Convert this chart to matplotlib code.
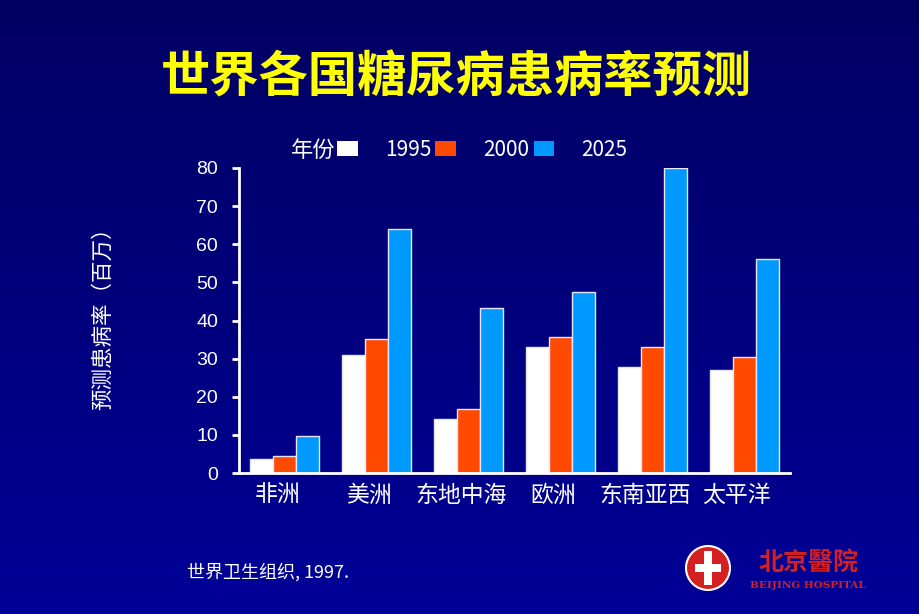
import numpy as np
import matplotlib
matplotlib.use("Agg")
import matplotlib.pyplot as plt
from matplotlib.patches import Patch, Ellipse, Rectangle
from matplotlib.colors import LinearSegmentedColormap

plt.rcParams['font.family'] = ['Noto Sans CJK SC', 'DejaVu Sans']

title = "世界各国糖尿病患病率预测"
regions = ["非洲", "美洲", "东地中海", "欧洲", "东南亚西", "太平洋"]
years = ["1995", "2000", "2025"]
v1995 = [3.8, 30.9, 14.2, 33.0, 27.9, 26.9]
v2000 = [4.5, 35.1, 16.8, 35.7, 33.0, 30.4]
v2025 = [9.7, 63.9, 43.3, 47.5, 80.0, 56.2]
yticks = [0, 10, 20, 30, 40, 50, 60, 70, 80]
ylabel = "预测患病率（百万）"
legend_title = "年份"
source = "世界卫生组织, 1997."

colors = ["#FFFFFF", "#FF4A00", "#0099FF"]

fig = plt.figure(figsize=(9.2, 6.14), dpi=100)

# gradient background
bg = fig.add_axes([0, 0, 1, 1], zorder=-10)
grad = np.linspace(0, 1, 256).reshape(-1, 1)
cmap = LinearSegmentedColormap.from_list("bg", ["#000062", "#000098"])
bg.imshow(grad, aspect="auto", cmap=cmap, extent=[0, 1, 0, 1], origin="upper")
bg.axis("off")

ax = fig.add_axes([239/920, 1-473/614, (790-239)/920, (473-168)/614])
ax.set_facecolor("none")
x = np.arange(len(regions))
w = 0.25
series = [v1995, v2000, v2025]
for i, vals in enumerate(series):
    ax.bar(x + (i-1)*w, vals, width=w, color=colors[i],
           edgecolor="#E6E6FF", linewidth=1.0, label=years[i])

ax.set_xlim(-0.5, 5.5)
ax.set_ylim(0, 80)
ax.set_yticks(yticks)
ax.set_yticklabels([str(t) for t in yticks], fontsize=14, color="white",
                   family=["Liberation Sans"])
ax.set_xticks(x - 0.08)
ax.set_xticklabels(regions, fontsize=16.5, color="white")
ax.tick_params(axis="x", length=0, pad=8)
ax.tick_params(axis="y", length=5, width=2, color="white", pad=10, direction="out")
for s in ["top", "right"]:
    ax.spines[s].set_visible(False)
for s in ["left", "bottom"]:
    ax.spines[s].set_color("white")
    ax.spines[s].set_linewidth(2)

fig.text(103/920, 1-313/614, ylabel, rotation=90, ha="center", va="center",
         color="white", fontsize=15.5)

fig.text(456/920, 1-78/614, title, ha="center", va="center", color="#FFFF00",
         fontsize=35.5, fontweight="bold")

handles = [Patch(facecolor=c, edgecolor="none") for c in colors]
fig.text(313/920, 1-150/614, legend_title, ha="center", va="center",
         color="white", fontsize=16)
leg = fig.legend(handles, years, loc="center left",
                 bbox_to_anchor=(337/920, 1-150/614), ncol=3, frameon=False,
                 fontsize=15, handlelength=1.0, handleheight=0.75,
                 handletextpad=1.3, columnspacing=0.2, borderpad=0,
                 borderaxespad=0)
for t in leg.get_texts():
    t.set_color("white")

fig.text(187/920, 1-572/614, source, ha="left", va="center", color="white",
         fontsize=13)

# logo approximation
lx, ly = 708/920, 1-568/614
fig.patches.append(Ellipse((lx, ly), 44/920, 44/614, transform=fig.transFigure,
                           facecolor="#D42020", edgecolor="white", linewidth=1.5))
fig.patches.append(Rectangle((lx-4/920, ly-17/614), 8/920, 34/614,
                             transform=fig.transFigure, facecolor="white"))
fig.patches.append(Rectangle((lx-13/920, ly-4/614), 26/920, 8/614,
                             transform=fig.transFigure, facecolor="white"))
fig.text(808/920, 1-563/614, "北京醫院", ha="center", va="center",
         color="#D42020", fontsize=18, fontweight="bold")
fig.text(808/920, 1-585/614, "BEIJING HOSPITAL", ha="center", va="center",
         color="#D42020", fontsize=7.5, fontweight="bold",
         family=["DejaVu Serif"])

fig.savefig("out.png", dpi=100)
